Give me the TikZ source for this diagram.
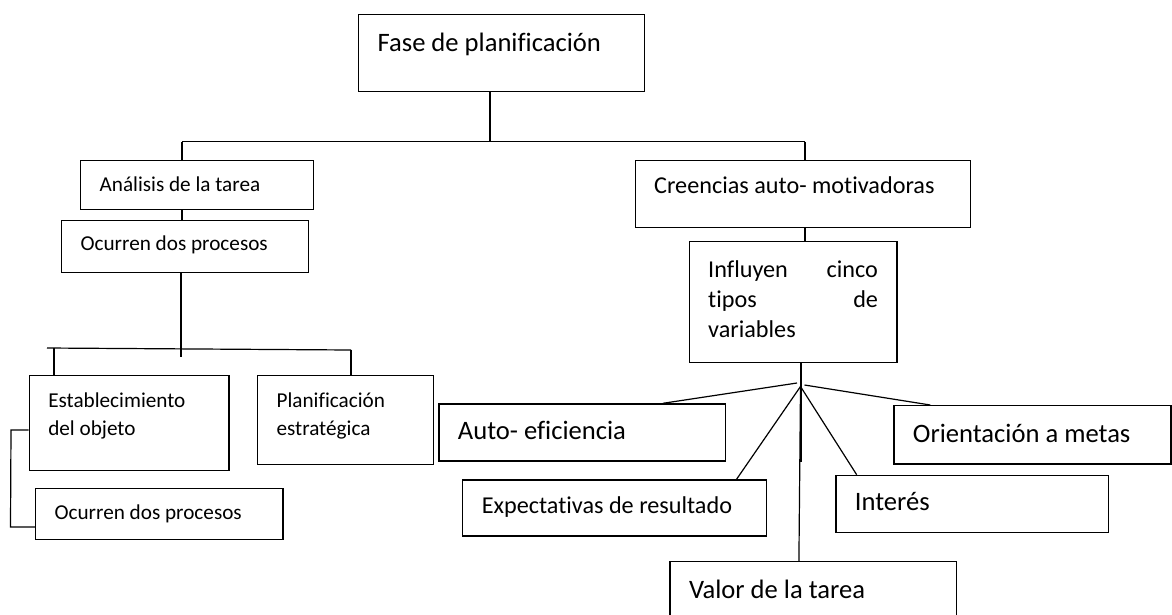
\documentclass[tikz,border=0pt]{standalone}
\usepackage{fontspec}
\setmainfont{Carlito}[Ligatures=CommonOff]
\usetikzlibrary{calc}

\newcommand{\fsmall}{\fontsize{21.2}{28}\selectfont}
\newcommand{\fmid}{\fontsize{24.2}{30}\selectfont}
\newcommand{\fbig}{\fontsize{26.6}{32}\selectfont}
% width, height, first baseline, text
\newcommand{\boxtext}[4]{\parbox[t][#2pt][t]{#1pt}{\rule{0pt}{#3pt}#4}}

\begin{document}
\begin{tikzpicture}[x=1pt, y=-1pt,
        box/.style={draw, line width=1.2pt, anchor=north west, inner xsep=19pt, inner ysep=0pt, align=left},
        link/.style={line width=1.2pt}
    ]
        \useasboundingbox (0,0) rectangle (1172,614);

        % Fase
        \node[box, font=\fbig] (fase) at (358,13.5) {\boxtext{248}{77}{37.5}{Fase de planificación}};

        % rama izquierda
        \node[box, font=\fsmall] (analisis) at (80,160) {\boxtext{194.5}{49}{30.5}{Análisis de la tarea}};
        \node[box, font=\fsmall] (ocurrenA) at (61,220) {\boxtext{209}{52}{30}{Ocurren dos procesos}};
        \node[box, font=\fsmall] (estab) at (28.7,375) {\boxtext{161.6}{95}{32}{Establecimiento\\del objeto}};
        \node[box, font=\fsmall] (plan) at (257,375) {\boxtext{137.7}{88.7}{32}{Planificación\\estratégica}};
        \node[box, font=\fsmall] (ocurrenB) at (35,487.7) {\boxtext{209.3}{51.3}{31.3}{Ocurren dos procesos}};

        % rama derecha
        \node[box, font=\fmid] (creencias) at (634.6,159.5) {\boxtext{297.4}{67.2}{33.5}{Creencias auto- motivadoras}};
        \node[box, font=\fmid] (influyen) at (688.6,241) {\boxtext{169.8}{121}{36}{Influyen\hfill cinco\\tipos\hfill de\\variables}};

        % variables
        \node[box, font=\fbig] (auto) at (438.3,403.3) {\boxtext{248.7}{57}{36}{Auto- eficiencia}};
        \node[box, font=\fbig] (orient) at (893.3,405) {\boxtext{239}{58.3}{36.7}{Orientación a metas}};
        \node[box, font=\fmid] (expect) at (462.2,479.3) {\boxtext{265.6}{56}{33.5}{Expectativas de resultado}};
        \node[box, font=\fbig] (interes) at (835.3,474.7) {\boxtext{234.7}{57}{35.3}{Interés}};
        \node[box, font=\fbig] (valor) at (669.4,561) {\boxtext{248.6}{70}{37}{Valor de la tarea}};

        % lineas superiores
        \coordinate (busL) at (182,141.5);
        \coordinate (busM) at (490,141.5);
        \coordinate (busR) at (805,141.5);
        \draw[link] (fase.south -| busM) -- (busM);
        \draw[link] (busL) -- (busR);
        \draw[link] (busL) -- (analisis.north -| busL);
        \draw[link] (busR) -- (creencias.north -| busR);
        \draw[link] (analisis.south -| busL) -- (ocurrenA.north -| busL);

        % lineas izquierda
        \coordinate (stemA) at (181,357);
        \coordinate (bus2L) at (47,348);
        \coordinate (dropE) at (54,348.1);
        \coordinate (bus2R) at (351,350);
        \draw[link] (ocurrenA.south -| stemA) -- (stemA);
        \draw[link] (bus2L) -- (bus2R);
        \draw[link] (dropE) -- (estab.north -| dropE);
        \draw[link] (bus2R) -- (plan.north -| bus2R);
        \coordinate (brkT) at (11,430);
        \coordinate (brkB) at (10.5,527);
        \draw[link] (estab.west |- brkT) -- (brkT) -- (brkB) -- (ocurrenB.west |- brkB);

        % lineas derecha
        \draw[link] (creencias.south -| busR) -- (influyen.north -| busR);
        \coordinate (stemI) at (801,462);
        \draw[link] (influyen.south -| stemI) -- (stemI);
        \coordinate (hubL) at (797,383);
        \coordinate (hubR) at (804.5,385);
        \coordinate (hub) at (800.5,386.5);
        \draw[link] (hubL) -- ($(auto.north west)!0.78!(auto.north east)$);
        \draw[link] (hubR) -- ($(orient.north west)!0.133!(orient.north east)$);
        \draw[link] (hub) -- ($(expect.north west)!0.90!(expect.north east)$);
        \draw[link] (hub) -- ($(interes.north west)!0.078!(interes.north east)$);
        \draw[link] (hub) -- ($(valor.north west)!0.45!(valor.north east)$);
    \end{tikzpicture}
\end{document}
